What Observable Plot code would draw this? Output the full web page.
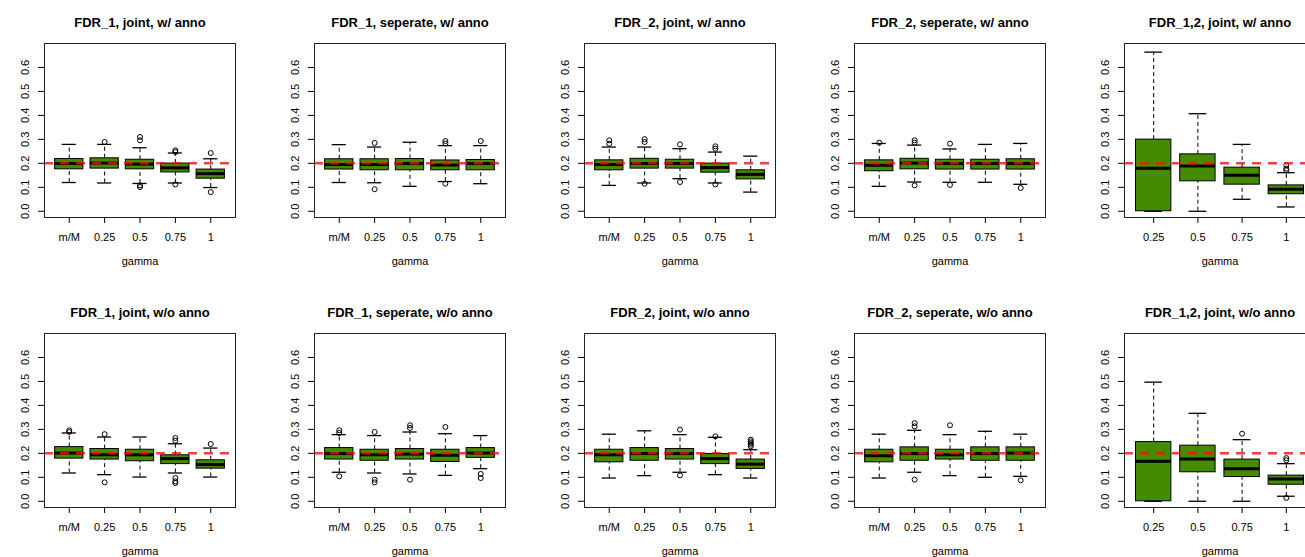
<!DOCTYPE html>
<html>
<head>
<meta charset="utf-8">
<script src="https://cdn.jsdelivr.net/npm/d3@7"></script>
<script src="https://cdn.jsdelivr.net/npm/@observablehq/plot@0.6"></script>
<style>
  html, body { margin: 0; padding: 0; background: #fff; overflow: hidden; }
  #wrap { position: relative; width: 1305px; height: 557px; overflow: hidden; background: #fff; }
  .panel { position: absolute; width: 270px; height: 290px; }
  .panel svg { display: block; }
</style>
</head>
<body>
<div id="wrap"></div>
<script>
// ---------- data ----------
const panelTitles = [
  "FDR_1, joint, w/ anno", "FDR_1, seperate, w/ anno", "FDR_2, joint, w/ anno",
  "FDR_2, seperate, w/ anno", "FDR_1,2, joint, w/ anno",
  "FDR_1, joint, w/o anno", "FDR_1, seperate, w/o anno", "FDR_2, joint, w/o anno",
  "FDR_2, seperate, w/o anno", "FDR_1,2, joint, w/o anno"
];
const gammaFive = ["m/M", "0.25", "0.5", "0.75", "1"];
const gammaFour = ["0.25", "0.5", "0.75", "1"];
const yTicks = [0, 0.1, 0.2, 0.3, 0.4, 0.5, 0.6];
const targetFDR = 0.2;
const xLabel = "gamma";

const whiskerLow = [
  [0.120, 0.118, 0.116, 0.118, 0.099],
  [0.120, 0.119, 0.104, 0.124, 0.115],
  [0.108, 0.118, 0.136, 0.118, 0.080],
  [0.104, 0.122, 0.121, 0.121, 0.1125],
  [0.000, 0.000, 0.050, 0.018],
  [0.118, 0.111, 0.101, 0.118, 0.101],
  [0.121, 0.118, 0.114, 0.108, 0.136],
  [0.097, 0.107, 0.121, 0.111, 0.097],
  [0.097, 0.121, 0.107, 0.100, 0.104],
  [0.000, 0.000, 0.000, 0.021]
];
const boxLow = [
  [0.175, 0.178, 0.175, 0.162, 0.136],
  [0.174, 0.171, 0.171, 0.171, 0.171],
  [0.171, 0.178, 0.178, 0.161, 0.133],
  [0.167, 0.175, 0.174, 0.174, 0.174],
  [0.000, 0.125, 0.111, 0.071],
  [0.178, 0.174, 0.167, 0.155, 0.136],
  [0.174, 0.169, 0.174, 0.164, 0.181],
  [0.1625, 0.169, 0.174, 0.155, 0.135],
  [0.1625, 0.169, 0.174, 0.169, 0.169],
  [0.000, 0.121, 0.101, 0.069]
];
const medians = [
  [0.199, 0.201, 0.197, 0.181, 0.157],
  [0.195, 0.195, 0.199, 0.193, 0.199],
  [0.195, 0.199, 0.199, 0.182, 0.154],
  [0.192, 0.201, 0.199, 0.199, 0.199],
  [0.180, 0.189, 0.150, 0.092],
  [0.201, 0.194, 0.194, 0.178, 0.153],
  [0.199, 0.194, 0.197, 0.192, 0.201],
  [0.194, 0.199, 0.199, 0.178, 0.155],
  [0.190, 0.199, 0.194, 0.199, 0.201],
  [0.167, 0.176, 0.136, 0.093]
];
const boxHigh = [
  [0.218, 0.221, 0.215, 0.199, 0.174],
  [0.217, 0.217, 0.218, 0.212, 0.214],
  [0.2125, 0.219, 0.215, 0.199, 0.171],
  [0.2125, 0.219, 0.215, 0.215, 0.217],
  [0.299, 0.2375, 0.182, 0.108],
  [0.226, 0.218, 0.215, 0.192, 0.171],
  [0.222, 0.215, 0.218, 0.215, 0.222],
  [0.215, 0.222, 0.218, 0.197, 0.174],
  [0.215, 0.225, 0.215, 0.225, 0.225],
  [0.247, 0.232, 0.174, 0.107]
];
const whiskerHigh = [
  [0.279, 0.279, 0.265, 0.243, 0.219],
  [0.278, 0.268, 0.288, 0.274, 0.274],
  [0.268, 0.268, 0.261, 0.247, 0.230],
  [0.283, 0.276, 0.260, 0.279, 0.283],
  [0.664, 0.407, 0.279, 0.161],
  [0.285, 0.268, 0.268, 0.240, 0.222],
  [0.278, 0.274, 0.289, 0.282, 0.274],
  [0.280, 0.294, 0.278, 0.267, 0.215],
  [0.280, 0.296, 0.278, 0.292, 0.280],
  [0.497, 0.367, 0.257, 0.157]
];
const outliers = [
  [[], [0.289], [0.31, 0.296, 0.108, 0.101], [0.254, 0.247, 0.112], [0.243, 0.08]],
  [[], [0.285, 0.092], [], [0.293, 0.283, 0.115], [0.293]],
  [[0.296, 0.282], [0.301, 0.289, 0.115], [0.279, 0.122], [0.271, 0.261, 0.112], []],
  [[0.286], [0.296, 0.286, 0.108], [0.282, 0.110], [], [0.097]],
  [[], [], [], [0.192, 0.178, 0.171]],
  [[0.296, 0.289], [0.28, 0.079], [], [0.264, 0.253, 0.097, 0.083, 0.076], [0.239]],
  [[0.296, 0.285, 0.104], [0.289, 0.09, 0.079], [0.317, 0.306, 0.09], [0.31], [0.114, 0.097]],
  [[], [], [0.299, 0.108], [0.271], [0.257, 0.25, 0.243, 0.236, 0.229]],
  [[], [0.326, 0.3125, 0.09], [0.317], [], [0.0875]],
  [[], [], [0.282], [0.18, 0.171, 0.014]]
];

// ---------- drawing ----------
const FONT = "'Liberation Sans', Arial, Helvetica, sans-serif";
const wrap = document.getElementById("wrap");

panelTitles.forEach((title, p) => {
  const cats = (p % 5 === 4) ? gammaFour : gammaFive;
  const n = cats.length;
  const rows = cats.map((c, k) => ({
    i: k + 1, lo: whiskerLow[p][k], q1: boxLow[p][k], med: medians[p][k],
    q3: boxHigh[p][k], hi: whiskerHigh[p][k]
  }));
  const outs = rows.flatMap((r, k) => outliers[p][k].map(v => ({i: r.i, v})));
  const ext = 0.04 * n;

  const chart = Plot.plot({
    width: 270, height: 290,
    marginTop: 43, marginBottom: 73, marginLeft: 44, marginRight: 35,
    x: {domain: [0.5 - ext, n + 0.5 + ext], axis: null},
    y: {domain: [-0.026, 0.70], axis: null},
    style: {fontFamily: FONT, background: "white", color: "black"},
    marks: [
      Plot.ruleX(rows, {x: "i", y1: "q3", y2: "hi", stroke: "black", strokeWidth: 1, strokeDasharray: "4,3"}),
      Plot.ruleX(rows, {x: "i", y1: "lo", y2: "q1", stroke: "black", strokeWidth: 1, strokeDasharray: "4,3"}),
      Plot.ruleY(rows, {y: "hi", x1: d => d.i - 0.2, x2: d => d.i + 0.2, stroke: "black", strokeWidth: 1.3}),
      Plot.ruleY(rows, {y: "lo", x1: d => d.i - 0.2, x2: d => d.i + 0.2, stroke: "black", strokeWidth: 1.3}),
      Plot.rect(rows, {x1: d => d.i - 0.4, x2: d => d.i + 0.4, y1: "q1", y2: "q3", fill: "#458B00", stroke: "black", strokeWidth: 1}),
      Plot.ruleY(rows, {y: "med", x1: d => d.i - 0.4, x2: d => d.i + 0.4, stroke: "black", strokeWidth: 3}),
      Plot.dot(outs, {x: "i", y: "v", r: 2.5, stroke: "black", strokeWidth: 1, fill: "none"}),
      Plot.ruleY([targetFDR], {stroke: "#ee1111", strokeWidth: 2.5, strokeDasharray: "9,7", strokeOpacity: 0.8}),
      Plot.frame({stroke: "#222", strokeWidth: 1}),
      Plot.axisX(d3.range(1, n + 1), {tickFormat: i => cats[i - 1], tickSize: 6, tickPadding: 10, fontSize: 11, label: null}),
      Plot.axisY(yTicks, {tickFormat: d3.format(".1f"), tickSize: 6, tickPadding: 10, tickRotate: -90, fontSize: 11, label: null}),
      Plot.text([title], {text: d => d, frameAnchor: "top", dy: -26, fontWeight: "bold", fontSize: 13}),
      Plot.text([xLabel], {text: d => d, frameAnchor: "bottom", dy: 47, fontSize: 11})
    ]
  });
  const div = document.createElement("div");
  div.className = "panel";
  div.style.left = ((p % 5) * 270) + "px";
  div.style.top = (Math.floor(p / 5) * 290) + "px";
  div.appendChild(chart);
  wrap.appendChild(div);
});
</script>
</body>
</html>
